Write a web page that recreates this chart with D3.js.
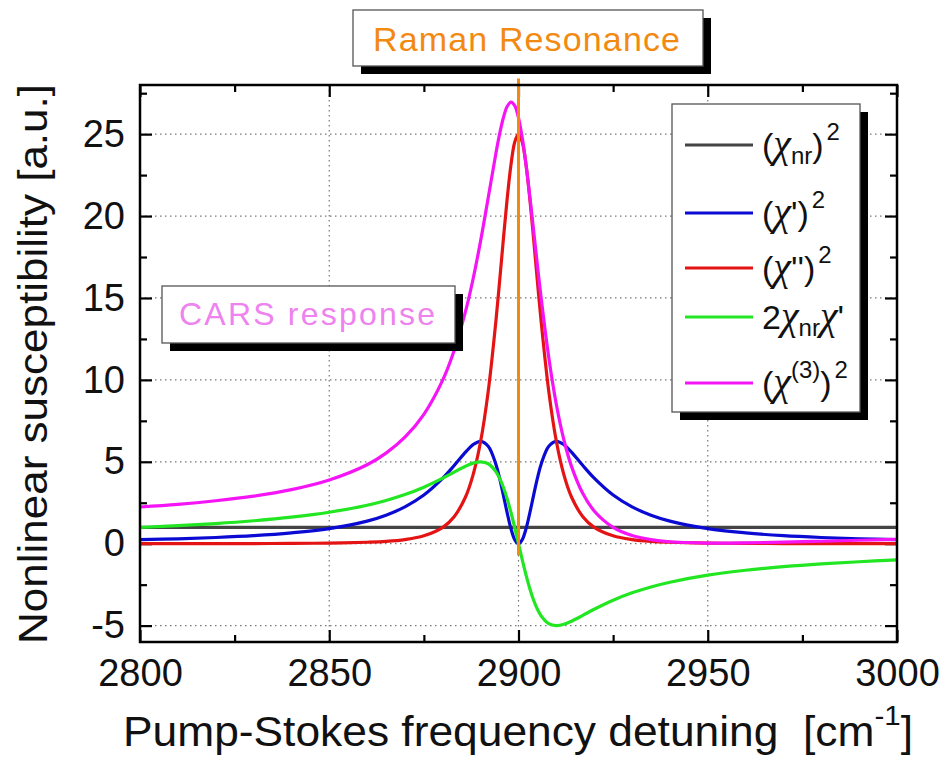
<!DOCTYPE html>
<html>
<head>
<meta charset="utf-8">
<script src="https://cdn.jsdelivr.net/npm/d3@7"></script>
<style>
  body { margin: 0; background: #fff; }
  svg { display: block; font-family: "Liberation Sans", Arial, sans-serif; }
</style>
</head>
<body>
<div id="chart"></div>
<script>
// Detuning axis (cm^-1) and the curves at those points
const detuning = [2800, 2810, 2820, 2830, 2840, 2850, 2860, 2865, 2870, 2875, 2880, 2883, 2886, 2888,
  2890, 2892, 2894, 2895, 2896, 2897, 2898, 2899, 2900, 2901, 2902, 2903, 2904, 2905, 2906, 2908,
  2910, 2912, 2914, 2917, 2920, 2925, 2930, 2935, 2940, 2950, 2960, 2970, 2980, 2990, 3000];

const chiNr2 = [1, 1, 1, 1, 1, 1, 1, 1, 1, 1, 1, 1, 1, 1,
  1, 1, 1, 1, 1, 1, 1, 1, 1, 1, 1, 1, 1, 1, 1, 1,
  1, 1, 1, 1, 1, 1, 1, 1, 1, 1, 1, 1, 1, 1, 1];

const chiRe2 = [0.25, 0.30, 0.38, 0.49, 0.66, 0.92, 1.38, 1.74, 2.25, 2.97, 4.00, 4.77, 5.59, 6.05,
  6.25, 5.95, 4.87, 4.00, 2.97, 1.89, 0.92, 0.25, 0.00, 0.25, 0.92, 1.89, 2.97, 4.00, 4.87, 5.95,
  6.25, 6.05, 5.59, 4.77, 4.00, 2.97, 2.25, 1.74, 1.38, 0.92, 0.66, 0.49, 0.38, 0.30, 0.25];

const chiIm2 = [0.00, 0.00, 0.01, 0.01, 0.02, 0.04, 0.09, 0.14, 0.25, 0.48, 1.00, 1.65, 2.85, 4.20,
  6.25, 9.30, 13.52, 16.00, 18.58, 21.04, 23.11, 24.51, 25.00, 24.51, 23.11, 21.04, 18.58, 16.00, 13.52, 9.30,
  6.25, 4.20, 2.85, 1.65, 1.00, 0.48, 0.25, 0.14, 0.09, 0.04, 0.02, 0.01, 0.01, 0.00, 0.00];

const crossTerm = [0.99, 1.10, 1.23, 1.40, 1.62, 1.92, 2.35, 2.64, 3.00, 3.45, 4.00, 4.37, 4.73, 4.92,
  5.00, 4.88, 4.41, 4.00, 3.45, 2.75, 1.92, 0.99, 0.00, -0.99, -1.92, -2.75, -3.45, -4.00, -4.41, -4.88,
  -5.00, -4.92, -4.73, -4.37, -4.00, -3.45, -3.00, -2.64, -2.35, -1.92, -1.62, -1.40, -1.23, -1.10, -0.99];

const chi3Total = [2.24, 2.40, 2.62, 2.90, 3.30, 3.89, 4.82, 5.53, 6.50, 7.90, 10.00, 11.80, 14.18, 16.16,
  18.50, 21.12, 23.79, 25.00, 26.00, 26.69, 26.96, 26.74, 26.00, 24.76, 23.12, 21.18, 19.10, 17.00, 14.97, 11.37,
  8.50, 6.33, 4.72, 3.06, 2.00, 1.00, 0.50, 0.25, 0.12, 0.04, 0.05, 0.10, 0.15, 0.21, 0.26];

const seriesNames = ["nr", "re", "im", "cross", "total"];
const seriesColors = ["#444444", "#0a0ad2", "#e41414", "#22e622", "#f514f5"];

const xTicks = [2800, 2850, 2900, 2950, 3000];
const xMinor = [2825, 2875, 2925, 2975];
const yTicks = [-5, 0, 5, 10, 15, 20, 25];
const yMinor = [-2.5, 2.5, 7.5, 12.5, 17.5, 22.5, 27.5];

const resonanceAt = 2900;
const resonanceSpan = [28.4, -0.7];

const width = 946;
const height = 760;
const margin = { top: 85, right: 49, bottom: 118, left: 140 };

const svg = d3.select("#chart").append("svg")
    .attr("width", width)
    .attr("height", height);

const x = d3.scaleLinear().domain([2800, 3000]).range([margin.left, width - margin.right]);
const y = d3.scaleLinear().domain([-6, 28]).range([height - margin.bottom, margin.top]);

// plain hyphen for negatives, like the original
const fmt = d => (d < 0 ? "-" : "") + Math.abs(d);

// ── grid ──────────────────────────────────────────────
const grid = svg.append("g")
    .attr("stroke", "#777")
    .attr("stroke-width", 1.2)
    .attr("stroke-dasharray", "1.5,3.5");

grid.selectAll("line.gx")
    .data(xTicks.slice(1, -1))
    .join("line")
    .attr("x1", d => x(d)).attr("x2", d => x(d))
    .attr("y1", y(28)).attr("y2", y(-6));

grid.selectAll("line.gy")
    .data(yTicks)
    .join("line")
    .attr("x1", x(2800)).attr("x2", x(3000))
    .attr("y1", d => y(d)).attr("y2", d => y(d));

// ── axes (ticks inside, mirrored) ─────────────────────
const tickFont = g => g.selectAll("text")
    .attr("font-size", 38)
    .attr("font-family", "'Liberation Sans', Arial, sans-serif")
    .attr("fill", "#111");
const tickStroke = g => {
    g.select(".domain").remove();
    g.selectAll("line").attr("stroke", "#000").attr("stroke-width", 2.2);
};

svg.append("g")
    .attr("transform", `translate(0,${y(-6)})`)
    .call(d3.axisBottom(x).tickValues(xTicks).tickSize(-12).tickPadding(17).tickFormat(fmt))
    .call(tickStroke).call(tickFont);
svg.append("g")
    .attr("transform", `translate(0,${y(-6)})`)
    .call(d3.axisBottom(x).tickValues(xMinor).tickSize(-7).tickFormat(""))
    .call(tickStroke);
svg.append("g")
    .attr("transform", `translate(0,${y(28)})`)
    .call(d3.axisTop(x).tickValues(xTicks).tickSize(-12).tickFormat(""))
    .call(tickStroke);
svg.append("g")
    .attr("transform", `translate(0,${y(28)})`)
    .call(d3.axisTop(x).tickValues(xMinor).tickSize(-7).tickFormat(""))
    .call(tickStroke);

svg.append("g")
    .attr("transform", `translate(${x(2800)},0)`)
    .call(d3.axisLeft(y).tickValues(yTicks).tickSize(-12).tickPadding(15).tickFormat(fmt))
    .call(tickStroke).call(tickFont);
svg.append("g")
    .attr("transform", `translate(${x(2800)},0)`)
    .call(d3.axisLeft(y).tickValues(yMinor).tickSize(-7).tickFormat(""))
    .call(tickStroke);
svg.append("g")
    .attr("transform", `translate(${x(3000)},0)`)
    .call(d3.axisRight(y).tickValues(yTicks).tickSize(-12).tickFormat(""))
    .call(tickStroke);
svg.append("g")
    .attr("transform", `translate(${x(3000)},0)`)
    .call(d3.axisRight(y).tickValues(yMinor).tickSize(-7).tickFormat(""))
    .call(tickStroke);

// ── curves ────────────────────────────────────────────
const allSeries = [chiNr2, chiRe2, chiIm2, crossTerm, chi3Total];
const line = d3.line()
    .x((d, i) => x(detuning[i]))
    .y(d => y(d))
    .curve(d3.curveCatmullRom.alpha(0.5));

svg.append("g")
    .selectAll("path")
    .data(allSeries)
    .join("path")
    .attr("d", d => line(d))
    .attr("fill", "none")
    .attr("stroke", (d, i) => seriesColors[i])
    .attr("stroke-width", 3.2)
    .attr("stroke-linejoin", "round");

// Raman resonance marker
svg.append("line")
    .attr("x1", x(resonanceAt)).attr("x2", x(resonanceAt))
    .attr("y1", y(resonanceSpan[0])).attr("y2", y(resonanceSpan[1]))
    .attr("stroke", "#f28a12")
    .attr("stroke-width", 3);

// frame
svg.append("rect")
    .attr("x", x(2800)).attr("y", y(28))
    .attr("width", x(3000) - x(2800))
    .attr("height", y(-6) - y(28))
    .attr("fill", "none")
    .attr("stroke", "#000")
    .attr("stroke-width", 2.5);

// ── boxes with drop shadow ────────────────────────────
function shadowBox(x0, y0, w, h) {
    svg.append("rect")
        .attr("x", x0 + 8).attr("y", y0 + 8)
        .attr("width", w).attr("height", h)
        .attr("fill", "#000");
    svg.append("rect")
        .attr("x", x0).attr("y", y0)
        .attr("width", w).attr("height", h)
        .attr("fill", "#fff")
        .attr("stroke", "#555")
        .attr("stroke-width", 1.3);
}

shadowBox(353, 10, 350, 56);
svg.append("text")
    .attr("x", 373).attr("y", 51)
    .attr("font-size", 34)
    .attr("fill", "#f28a12")
    .attr("textLength", 307)
    .attr("lengthAdjust", "spacing")
    .text("Raman Resonance");

shadowBox(162, 286, 293, 57);
svg.append("text")
    .attr("x", 179).attr("y", 325)
    .attr("font-size", 32)
    .attr("fill", "#ee82ee")
    .attr("textLength", 256)
    .attr("lengthAdjust", "spacing")
    .text("CARS response");

// ── legend ────────────────────────────────────────────
shadowBox(672, 104, 188, 308);
const legendRows = [145, 213, 268, 317, 383];
const legend = svg.append("g");
legend.selectAll("line")
    .data(seriesNames)
    .join("line")
    .attr("x1", 685).attr("x2", 753)
    .attr("y1", (d, i) => legendRows[i]).attr("y2", (d, i) => legendRows[i])
    .attr("stroke", (d, i) => seriesColors[i])
    .attr("stroke-width", 3.2);

const chiFont = "'Liberation Serif', 'Times New Roman', serif";
function legendLabel(i, parts) {
    const t = legend.append("text")
        .attr("x", 762).attr("y", legendRows[i] + 12)
        .attr("font-size", 34)
        .attr("fill", "#111");
    parts.forEach(p => {
        const s = t.append("tspan").text(p.t);
        if (p.chi) s.attr("font-family", chiFont).attr("font-style", "italic").attr("font-size", 40);
        if (p.sub) s.attr("font-size", 24).attr("baseline-shift", "-30%");
        if (p.sup) s.attr("font-size", 24).attr("baseline-shift", "70%");
        if (p.dx) s.attr("dx", p.dx);
    });
}
legendLabel(0, [{ t: "(" }, { t: "χ", chi: true }, { t: "nr", sub: true }, { t: ")" }, { t: "2", sup: true, dx: 3 }]);
legendLabel(1, [{ t: "(" }, { t: "χ", chi: true }, { t: "'" }, { t: ")" }, { t: "2", sup: true, dx: 3 }]);
legendLabel(2, [{ t: "(" }, { t: "χ", chi: true }, { t: "''" }, { t: ")" }, { t: "2", sup: true, dx: 3 }]);
legendLabel(3, [{ t: "2" }, { t: "χ", chi: true }, { t: "nr", sub: true }, { t: "χ", chi: true }, { t: "'" }]);
legendLabel(4, [{ t: "(" }, { t: "χ", chi: true }, { t: "(3)", sup: true }, { t: ")" }, { t: "2", sup: true, dx: 3 }]);

// ── axis titles ───────────────────────────────────────
const xTitle = svg.append("text")
    .attr("x", 123).attr("y", 746)
    .attr("font-size", 42)
    .attr("fill", "#111")
    .attr("textLength", 790)
    .attr("lengthAdjust", "spacingAndGlyphs")
    .style("white-space", "pre");
xTitle.append("tspan").text("Pump-Stokes frequency detuning  [cm");
xTitle.append("tspan").attr("font-size", 28).attr("baseline-shift", "75%").text("-1");
xTitle.append("tspan").text("]");

svg.append("text")
    .attr("transform", `translate(47,${364}) rotate(-90)`)
    .attr("text-anchor", "middle")
    .attr("font-size", 41)
    .attr("fill", "#111")
    .attr("textLength", 560)
    .attr("lengthAdjust", "spacingAndGlyphs")
    .text("Nonlinear susceptibility [a.u.]");
</script>
</body>
</html>
